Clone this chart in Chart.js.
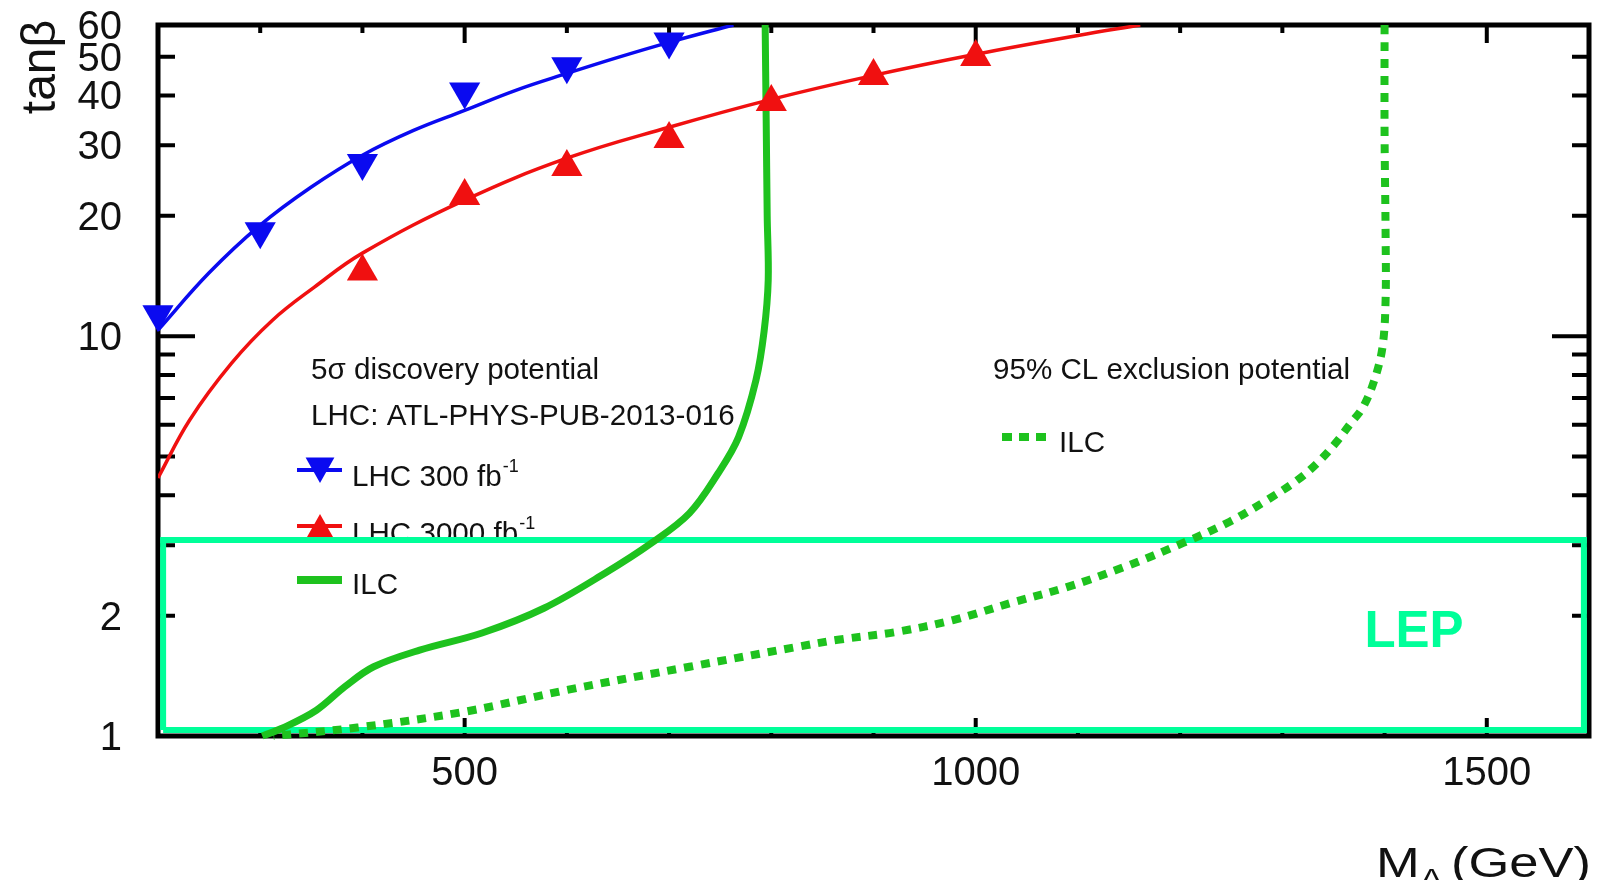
<!DOCTYPE html>
<html>
<head>
<meta charset="utf-8">
<script src="https://cdn.jsdelivr.net/npm/chart.js@4.4.1/dist/chart.umd.min.js"></script>
<style>
html,body{margin:0;padding:0;background:#ffffff;}
#wrap{width:1597px;height:880px;position:relative;}
</style>
</head>
<body>
<div id="wrap"><canvas id="c"></canvas></div>
<script>
// ---------------- data ----------------
// LHC 300 fb^-1 markers (down triangles)
const mass300 = [200, 300, 400, 500, 600, 700];
const tanb300 = [11.35, 18.3, 27.1, 40.9, 47.3, 54.6];
// LHC 3000 fb^-1 markers (up triangles)
const mass3000 = [400, 500, 600, 700, 800, 900, 1000];
const tanb3000 = [14.5, 22.4, 26.5, 31.1, 38.5, 44.7, 49.9];
// fitted curve through LHC 300 fb^-1
const fit300Mass = [200, 250, 300, 350, 400, 450, 500, 550, 600, 650, 700, 763];
const fit300Tanb = [10.35, 14.4, 18.95, 23.6, 28.35, 32.7, 36.7, 41.2, 45.4, 49.8, 54.3, 60];
// fitted curve through LHC 3000 fb^-1
const fit3000Mass = [200, 231, 272, 312, 353, 400, 500, 600, 700, 800, 900, 1000, 1100, 1161];
const fit3000Tanb = [4.42, 6.17, 8.56, 10.96, 13.26, 16.13, 21.88, 27.86, 33.3, 39.1, 44.9, 50.7, 56.5, 60];
// ILC 5 sigma discovery (solid green)
const ilcDiscMass = [794, 795, 796, 797, 793, 785, 768, 748, 720, 683, 638, 578, 517, 456, 411, 383, 355, 322, 302];
const ilcDiscTanb = [60, 35, 20, 13.8, 10.3, 7.76, 5.59, 4.54, 3.61, 3.04, 2.56, 2.09, 1.81, 1.64, 1.49, 1.33, 1.16, 1.047, 1.0];
// ILC 95% CL exclusion (dotted green)
const ilcExclMass = [1400, 1400, 1401, 1401, 1398, 1390, 1379, 1367, 1352, 1334, 1315, 1285, 1248, 1203, 1146, 1090, 1034, 978, 922, 865, 825, 720, 598, 500, 395, 313];
const ilcExclTanb = [60, 32, 18, 12.3, 9.4, 7.76, 6.65, 6.06, 5.4, 4.81, 4.37, 3.89, 3.43, 3.04, 2.65, 2.36, 2.15, 1.95, 1.82, 1.74, 1.67, 1.49, 1.30, 1.15, 1.05, 1.0];
// LEP excluded region (box)
const lepMass = [205, 1595, 1595, 205, 205];
const lepTanb = [1.035, 1.035, 3.09, 3.09, 1.035];

// axis ticks
const xTickLabels = [500, 1000, 1500];
const xMinorTicks = [300, 400, 600, 700, 800, 900, 1100, 1200, 1300, 1400];
const yTickLabels = [1, 2, 10, 20, 30, 40, 50, 60];
const yLongTicks = [10];
const yShortTicks = [2, 3, 4, 5, 6, 7, 8, 9, 20, 30, 40, 50];

// ---------------- styling ----------------
const FONT = "'Liberation Sans', Arial, sans-serif";
const LEG = '29.6px ' + FONT;
const BLUE = '#0a0af0';
const RED = '#f01010';
const GREEN = '#1ec21e';
const LEPC = '#00ff99';

const toPts = (xs, ys) => xs.map((x, i) => ({x: x, y: ys[i]}));

function drawTri(ctx, cx, cy, r, down, color) {
  ctx.save();
  ctx.fillStyle = color;
  ctx.beginPath();
  const s = down ? -1 : 1;
  ctx.moveTo(cx, cy - s * r);
  ctx.lineTo(cx + 0.9 * r, cy + s * r * 0.6);
  ctx.lineTo(cx - 0.9 * r, cy + s * r * 0.6);
  ctx.closePath();
  ctx.fill();
  ctx.restore();
}

const axesPlugin = {
  id: 'axesDecor',
  beforeDatasetsDraw(chart) {
    const {ctx, chartArea: a} = chart;
    ctx.save();
    // frame
    ctx.strokeStyle = '#000';
    ctx.lineWidth = 5;
    ctx.strokeRect(a.left, a.top, a.right - a.left, a.bottom - a.top);
    // discovery legend header (drawn below LEP box)
    ctx.fillStyle = '#111';
    ctx.textBaseline = 'alphabetic';
    ctx.textAlign = 'left';
    ctx.font = LEG;
    ctx.fillText('5\u03C3 discovery potential', 311, 379);
    ctx.fillText('LHC: ATL-PHYS-PUB-2013-016', 311, 425);
    // LHC 300 entry
    ctx.strokeStyle = BLUE; ctx.lineWidth = 4;
    ctx.beginPath(); ctx.moveTo(297, 470); ctx.lineTo(342, 470); ctx.stroke();
    drawTri(ctx, 320, 467, 16, true, BLUE);
    ctx.fillStyle = '#111';
    ctx.font = LEG;
    ctx.fillText('LHC 300 fb', 352, 486);
    let w = ctx.measureText('LHC 300 fb').width;
    ctx.font = '18px ' + FONT;
    ctx.fillText('-1', 352 + w + 1, 472);
    // LHC 3000 entry
    ctx.strokeStyle = RED; ctx.lineWidth = 4;
    ctx.beginPath(); ctx.moveTo(297, 526); ctx.lineTo(342, 526); ctx.stroke();
    drawTri(ctx, 320, 530, 16, false, RED);
    ctx.fillStyle = '#111';
    ctx.font = LEG;
    ctx.fillText('LHC 3000 fb', 352, 543);
    w = ctx.measureText('LHC 3000 fb').width;
    ctx.font = '18px ' + FONT;
    ctx.fillText('-1', 352 + w + 1, 529);
    // exclusion header
    ctx.font = LEG;
    ctx.fillText('95% CL exclusion potential', 993, 379);
    ctx.restore();
  },
  beforeDatasetDraw(chart, args) {
    if (args.index !== 0) return; // after LEP fill, before LEP border
    const {ctx, chartArea: a, scales} = chart;
    const xs = scales.x, ys = scales.y;
    ctx.save();
    ctx.strokeStyle = '#000';
    ctx.lineWidth = 4;
    ctx.beginPath();
    yLongTicks.forEach(v => {
      const y = ys.getPixelForValue(v);
      ctx.moveTo(a.left, y); ctx.lineTo(a.left + 37, y);
      ctx.moveTo(a.right, y); ctx.lineTo(a.right - 37, y);
    });
    yShortTicks.forEach(v => {
      const y = ys.getPixelForValue(v);
      ctx.moveTo(a.left, y); ctx.lineTo(a.left + 17, y);
      ctx.moveTo(a.right, y); ctx.lineTo(a.right - 17, y);
    });
    xTickLabels.forEach(v => {
      const x = xs.getPixelForValue(v);
      ctx.moveTo(x, a.bottom); ctx.lineTo(x, a.bottom - 18);
      ctx.moveTo(x, a.top); ctx.lineTo(x, a.top + 18);
    });
    xMinorTicks.forEach(v => {
      const x = xs.getPixelForValue(v);
      ctx.moveTo(x, a.bottom); ctx.lineTo(x, a.bottom - 8);
      ctx.moveTo(x, a.top); ctx.lineTo(x, a.top + 8);
    });
    ctx.stroke();
    ctx.restore();
  },
  afterDatasetsDraw(chart) {
    const {ctx} = chart;
    ctx.save();
    // ILC solid legend entry
    ctx.strokeStyle = GREEN; ctx.lineWidth = 8;
    ctx.beginPath(); ctx.moveTo(297, 580); ctx.lineTo(342, 580); ctx.stroke();
    ctx.fillStyle = '#111';
    ctx.textAlign = 'left';
    ctx.font = LEG;
    ctx.fillText('ILC', 352, 594);
    // ILC dotted legend entry
    ctx.setLineDash([10, 7]);
    ctx.beginPath(); ctx.moveTo(1002, 437); ctx.lineTo(1051, 437); ctx.stroke();
    ctx.setLineDash([]);
    ctx.fillText('ILC', 1059, 452);
    // LEP label
    ctx.fillStyle = LEPC;
    ctx.font = 'bold 51px ' + FONT;
    ctx.textAlign = 'center';
    ctx.fillText('LEP', 1414, 647);
    ctx.restore();
  },
  afterDraw(chart) {
    const {ctx} = chart;
    ctx.save();
    ctx.fillStyle = '#111';
    // y title
    ctx.translate(55, 67);
    ctx.rotate(-Math.PI / 2);
    ctx.textAlign = 'center';
    ctx.textBaseline = 'alphabetic';
    ctx.font = '48px ' + FONT;
    ctx.fillText('tan\u03B2', 0, 0);
    ctx.restore();
    // x title, slightly widened like the reference
    ctx.save();
    ctx.fillStyle = '#111';
    ctx.textAlign = 'left';
    ctx.translate(1376, 877);
    ctx.scale(1.25, 1);
    ctx.font = '42px ' + FONT;
    ctx.fillText('M', 0, 0);
    const mw = ctx.measureText('M').width;
    ctx.font = '28px ' + FONT;
    ctx.fillText('A', mw, 11);
    ctx.font = '42px ' + FONT;
    ctx.fillText('(GeV)', (1451 - 1376) / 1.25, 0);
    ctx.restore();
  }
};

new Chart(document.getElementById('c'), {
  type: 'scatter',
  data: {
    datasets: [
      {
        label: 'LEP', data: toPts(lepMass, lepTanb), showLine: true,
        fill: 'shape', backgroundColor: '#ffffff', borderColor: LEPC, borderWidth: 6,
        borderJoinStyle: 'miter', pointRadius: 0, tension: 0, order: 9, clip: false
      },
      {
        label: 'ILC exclusion', data: toPts(ilcExclMass, ilcExclTanb), showLine: true,
        borderColor: GREEN, borderWidth: 8, borderDash: [9, 8], borderCapStyle: 'butt',
        pointRadius: 0, tension: 0.35, order: 4, clip: false, fill: false
      },
      {
        label: 'ILC discovery', data: toPts(ilcDiscMass, ilcDiscTanb), showLine: true,
        borderColor: GREEN, borderWidth: 7, pointRadius: 0, tension: 0.35, order: 4, clip: false, fill: false
      },
      {
        label: 'LHC 3000 fit', data: toPts(fit3000Mass, fit3000Tanb), showLine: true,
        borderColor: RED, borderWidth: 3.5, pointRadius: 0, tension: 0.4, order: 3, fill: false
      },
      {
        label: 'LHC 300 fit', data: toPts(fit300Mass, fit300Tanb), showLine: true,
        borderColor: BLUE, borderWidth: 3.5, pointRadius: 0, tension: 0.4, order: 3, fill: false
      },
      {
        label: 'LHC 3000 fb-1', data: toPts(mass3000, tanb3000), showLine: false,
        pointStyle: 'triangle', pointRadius: 18, pointBackgroundColor: RED, pointBorderWidth: 0,
        order: 1, clip: false
      },
      {
        label: 'LHC 300 fb-1', data: toPts(mass300, tanb300), showLine: false,
        pointStyle: 'triangle', pointRotation: 180, pointRadius: 18, pointBackgroundColor: BLUE,
        pointBorderWidth: 0, order: 1, clip: false
      }
    ]
  },
  options: {
    responsive: true,
    maintainAspectRatio: false,
    animation: false,
    events: [],
    layout: {autoPadding: false, padding: {left: 0, top: 25, right: 8, bottom: 0}},
    plugins: {legend: {display: false}, tooltip: {enabled: false}},
    scales: {
      x: {
        type: 'linear', min: 200, max: 1600,
        grid: {display: false, drawTicks: false, tickLength: 0},
        border: {display: false},
        afterBuildTicks: s => { s.ticks = xTickLabels.map(v => ({value: v})); },
        afterFit: s => { s.height = 880 - 736; s.paddingLeft = 0; s.paddingRight = 0; },
        ticks: {
          autoSkip: false, maxRotation: 0, minRotation: 0, padding: 14,
          color: '#111', font: {family: FONT, size: 40},
          callback: v => String(v)
        }
      },
      y: {
        type: 'logarithmic', min: 1, max: 60,
        grid: {display: false, drawTicks: false, tickLength: 0},
        border: {display: false},
        afterBuildTicks: s => { s.ticks = yTickLabels.map(v => ({value: v})); },
        afterFit: s => { s.width = 158; s.paddingTop = 0; s.paddingBottom = 0; },
        ticks: {
          autoSkip: false, padding: 36, labelOffset: 3,
          color: '#111', font: {family: FONT, size: 40},
          callback: v => String(v)
        }
      }
    }
  },
  plugins: [axesPlugin]
});
</script>
</body>
</html>
